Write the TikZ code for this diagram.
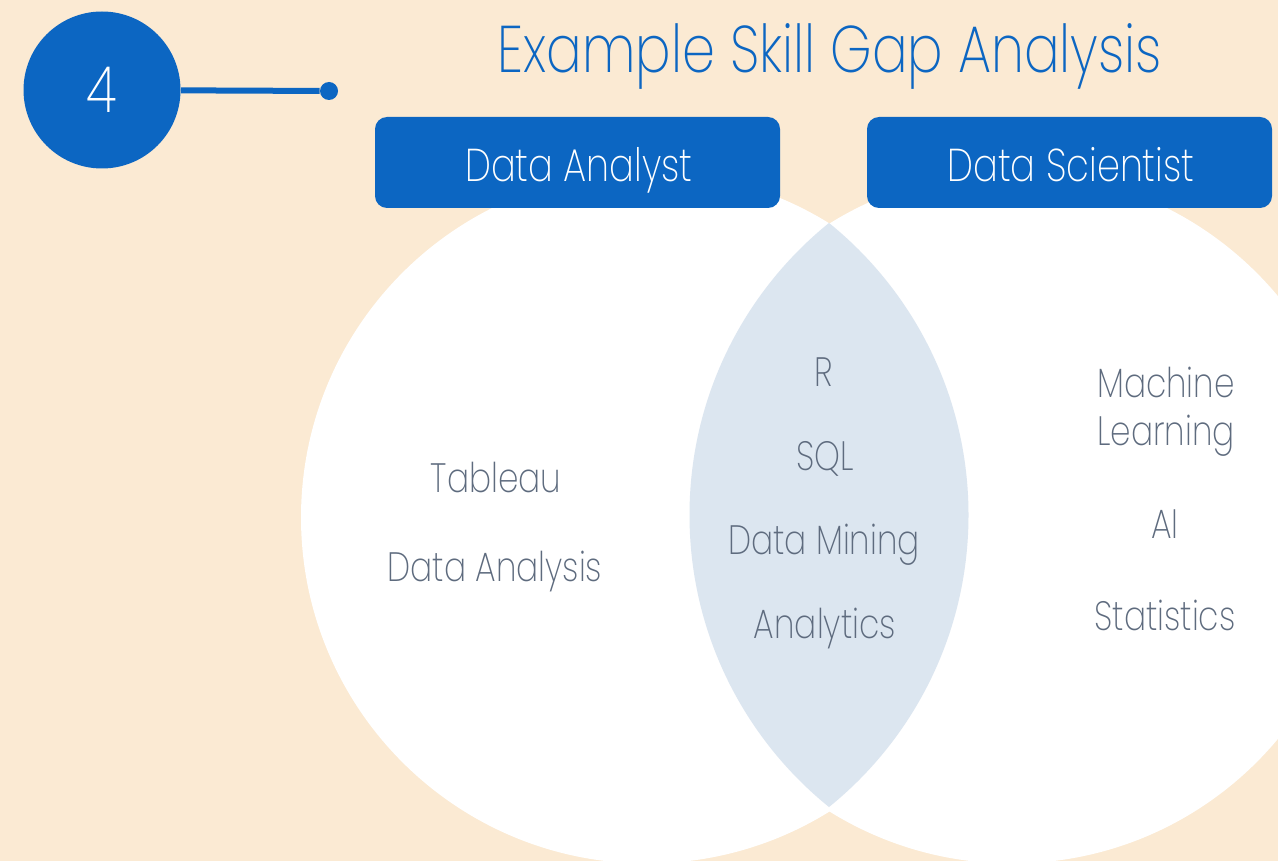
\documentclass[tikz,border=0pt]{standalone}
\usepackage{fontspec}
\setmainfont{Poppins ExtraLight}[FakeStretch=0.8]
\definecolor{peach}{HTML}{FBEAD3}
\definecolor{brandblue}{HTML}{0C66C2}
\definecolor{overlap}{HTML}{DCE6F0}
\definecolor{skillgray}{HTML}{5E6B7E}
\begin{document}
\begin{tikzpicture}[x=0.5pt, y=-0.5pt,
    rolebox/.style={fill=brandblue, rounded corners=6pt, minimum width=202.5pt, minimum height=45.5pt},
    role/.style={text=white, font=\fontsize{23}{28}\selectfont, anchor=base},
    skill/.style={text=skillgray, font=\fontsize{20.5}{24}\selectfont, anchor=base}]
  \fill[peach] (0,0) rectangle (1278,861);
  \begin{scope}
    \clip (0,0) rectangle (1278,861);
    \fill[white] (647,517.5) circle[radius=173pt] (1012,517.5) circle[radius=173pt];
    \clip (593.1,515) circle[radius=187.7pt];
    \fill[overlap] (1064.9,515) circle[radius=187.7pt];
  \end{scope}

  \node[circle, fill=brandblue, minimum size=78.5pt, inner sep=0pt, text=white,
    font=\fontsize{32}{38}\selectfont] (step4) at (102,90) {4};
  \node[circle, fill=brandblue, minimum size=9pt, inner sep=0pt] (dot) at (329,91) {};
  \draw[brandblue, line width=3pt] (step4) -- (dot);
  \node[text=brandblue, font=\fontsize{33}{38}\selectfont, anchor=base] (title) at (830,73)
    {Example Skill Gap Analysis};

  \node[rolebox] (analystbox) at (577.5,162.5) {};
  \node[role] (analyst) at (579,182) {Data Analyst};
  \node[rolebox] (scientistbox) at (1069.5,162.5) {};
  \node[role] (scientist) at (1071,182) {Data Scientist};

  \node[skill] (tableau) at (496,492) {Tableau};
  \node[skill] (analysis) at (495,581) {Data Analysis};

  \node[skill] (r) at (824,386) {R};
  \node[skill] (sql) at (825,470) {SQL};
  \node[skill] (mining) at (824,554) {Data Mining};
  \node[skill] (analytics) at (825,638) {Analytics};

  \node[skill, align=center] (ml) at (1166,445) {Machine\\Learning};
  \node[skill] (ai) at (1165,538) {AI};
  \node[skill] (stats) at (1165,630) {Statistics};
\end{tikzpicture}
\end{document}
